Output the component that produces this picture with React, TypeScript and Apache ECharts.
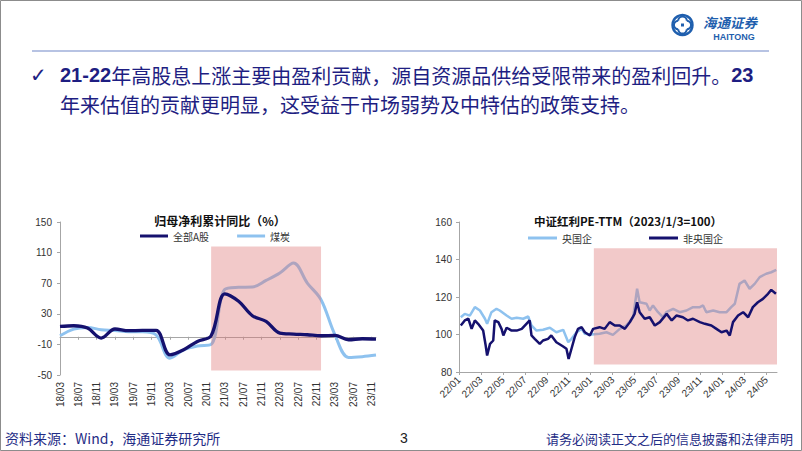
import React, { useEffect, useRef } from 'react';
import * as echarts from 'echarts';

// ---------- Left chart: 归母净利累计同比（%） (quarterly) ----------
const leftQuarters = ['18/03','18/06','18/09','18/12','19/03','19/06','19/09','19/12','20/03','20/06','20/09','20/12','21/03','21/06','21/09','21/12','22/03','22/06','22/09','22/12','23/03','23/06','23/09','23/12'];
const allAShares = [13.5, 14.4, 11.3, -1.7, 10.1, 7.9, 8.3, 8.3, -23.6, -17, -6.1, 1.3, 56, 46.3, 27.5, 20, 4.8, 3.5, 2.6, 1.3, 1.7, -3.9, -2.6, -3];
const coal = [1.3, 10, 12.2, 9.2, 8.3, 6.5, 6.5, 2.3, -28, -17, -12, -10, 62, 64.6, 65, 73.6, 83.4, 96.3, 70.2, 48.4, 3, -27, -26, -24];

// ---------- Right chart: 中证红利PE-TTM（2023/1/3=100） ----------
const centralDates = ['2022-01-06','2022-01-17','2022-01-31','2022-02-14','2022-02-28','2022-03-14','2022-03-20','2022-04-01','2022-04-15','2022-04-24','2022-05-13','2022-05-27','2022-06-10','2022-06-28','2022-07-12','2022-07-21','2022-08-04','2022-08-22','2022-09-10','2022-09-28','2022-10-17','2022-10-31','2022-11-09','2022-11-23','2022-12-07','2022-12-16','2023-01-03','2023-01-26','2023-02-14','2023-03-04','2023-03-23','2023-04-10','2023-04-29','2023-05-10','2023-05-17','2023-06-05','2023-06-14','2023-06-23','2023-07-07','2023-07-21','2023-07-30','2023-08-18','2023-09-05','2023-09-24','2023-10-12','2023-10-31','2023-11-09','2023-11-18','2023-12-07','2023-12-25','2024-01-13','2024-01-26','2024-02-05','2024-02-18','2024-03-03','2024-03-17','2024-03-31','2024-04-14','2024-05-02','2024-05-16','2024-05-30'];
const centralSOE = [109.2,111.0,110.1,114.6,112.8,108.4,105.7,111.9,113.7,112.8,110.1,108.4,108.9,108.4,109.6,104.8,102.1,102.5,103.6,101.2,102.5,95.9,97.7,101.2,103.0,100.4,100,100.4,101.2,99.8,103.0,104.8,109.2,124.4,117.2,116.4,112.8,115.5,111.9,109.2,111.9,113.7,111.9,112.8,114.6,114.6,115.5,111.9,112.8,111.9,111.9,114.6,116.4,127,128.8,124.4,127,130.6,132.4,133.2,134.5];

const nonCentralDates = ['2022-01-06','2022-01-17','2022-01-27','2022-02-05','2022-02-14','2022-02-23','2022-03-09','2022-03-16','2022-03-20','2022-03-28','2022-04-06','2022-04-10','2022-04-20','2022-04-29','2022-05-04','2022-05-13','2022-05-27','2022-06-10','2022-06-24','2022-07-07','2022-07-16','2022-07-21','2022-07-30','2022-08-13','2022-08-22','2022-09-05','2022-09-14','2022-09-28','2022-10-17','2022-10-26','2022-11-01','2022-11-09','2022-11-18','2022-11-27','2022-12-07','2022-12-16','2022-12-30','2023-01-08','2023-01-26','2023-02-09','2023-02-23','2023-03-09','2023-03-23','2023-04-06','2023-04-20','2023-05-03','2023-05-10','2023-05-17','2023-05-31','2023-06-14','2023-06-28','2023-07-12','2023-07-31','2023-08-14','2023-08-27','2023-09-14','2023-09-28','2023-10-12','2023-10-31','2023-11-14','2023-12-02','2023-12-16','2023-12-30','2024-01-13','2024-01-22','2024-01-31','2024-02-14','2024-02-28','2024-03-13','2024-03-26','2024-04-09','2024-04-23','2024-05-07','2024-05-16','2024-05-29'];
const nonCentralSOE = [104.8,107.5,108.4,103.0,107.5,105.7,102.1,94.1,88.8,95.0,96.8,107.5,106.6,103.0,99.5,103.6,102.1,102.1,103.0,105.7,107.5,99.5,97.7,95.0,96.8,97.7,99.5,95.9,93.6,92.4,87.0,92.4,98.6,103.0,103.9,101.2,99.5,103.0,103.9,103.0,106.6,104.8,104.8,103.0,106.6,111.0,117.2,111.9,108.4,109.2,104.8,106.6,111.0,107.5,110.1,109.2,107.5,108.4,106.6,105.7,104.8,103.0,101.2,102.1,99.5,106.6,110.1,111.9,109.2,114.6,117.2,119.0,121.7,123.8,121.7];

// shaded periods
const leftShade = { from: '20/12', to: '22/12', top: 118, bottom: -44 };
const rightShade = { from: '2023-01-10', to: '2024-06-01', top: 146, bottom: 84 };
const rightAxisStart = '2022-01-01';

// ---------- styles ----------
const LIGHT = '#8ec2ef';
const DARK = '#15116e';
const SHADE = 'rgba(222,120,120,0.40)';
const AXIS = '#a6a6a6';
const NAVY_TEXT = '#1e1e82';
const LATIN = 'Liberation Sans, Arial, sans-serif';
const CJK = 'Noto Sans CJK SC, sans-serif';
const DAY = 86400000;

const leftMonths: string[] = [];
for (let y = 18; y <= 23; y++) {
  for (let m = 1; m <= 12; m++) {
    if (y === 18 && m < 3) continue;
    leftMonths.push(`${y}/${String(m).padStart(2, '0')}`);
  }
}

const toLocalTs = (s: string) => {
  const [y, m, d] = s.split('-').map(Number);
  return new Date(y, m - 1, d).getTime();
};
const fmtRight = (v: number) => {
  const d = new Date(v + 5 * DAY);
  return `${String(d.getFullYear()).slice(2)}/${String(d.getMonth() + 1).padStart(2, '0')}`;
};

function buildOption(): any {
  const rs0 = toLocalTs(rightShade.from);
  const rs1 = toLocalTs(rightShade.to);
  const rMin = toLocalTs(rightAxisStart);
  const twoMonths = (365.25 / 6) * DAY;
  const axisLabelStyle = { fontSize: 10, color: '#333', fontFamily: LATIN };

  return {
    animation: false,
    backgroundColor: '#ffffff',
    grid: [
      { left: 60, top: 222, width: 316, height: 153 },
      { left: 459, top: 222, width: 318, height: 150 },
    ],
    legend: [
      {
        data: [{ name: '全部A股', icon: 'rect' }, { name: '煤炭', icon: 'rect' }],
        left: 140, top: 231, padding: 0, itemWidth: 28, itemHeight: 3, itemGap: 28,
        selectedMode: false,
        textStyle: { fontSize: 10, color: '#333', fontFamily: CJK },
      },
      {
        data: [{ name: '央国企', icon: 'rect' }, { name: '非央国企', icon: 'rect' }],
        left: 528, top: 233, padding: 0, itemWidth: 29, itemHeight: 3, itemGap: 57,
        selectedMode: false,
        textStyle: { fontSize: 10, color: '#333', fontFamily: CJK },
      },
    ],
    xAxis: [
      {
        type: 'category', gridIndex: 0, data: leftMonths, boundaryGap: false, position: 'bottom',
        axisLine: { onZero: true, lineStyle: { color: AXIS, width: 1 } },
        axisTick: { show: true, interval: 3, length: 3, lineStyle: { color: AXIS } },
        axisLabel: { show: false },
        splitLine: { show: false },
      },
      {
        type: 'category', gridIndex: 0, data: leftMonths, boundaryGap: false, position: 'bottom',
        axisLine: { show: false, onZero: false },
        axisTick: { show: false },
        axisLabel: { ...axisLabelStyle, interval: 3, rotate: 90, margin: 7 },
        splitLine: { show: false },
      },
      {
        type: 'value', gridIndex: 1, min: rMin, max: rs1, interval: twoMonths,
        axisLine: { onZero: false, lineStyle: { color: AXIS, width: 1 } },
        axisTick: { show: true, length: 3, lineStyle: { color: AXIS } },
        axisLabel: { ...axisLabelStyle, formatter: fmtRight, rotate: 45, margin: 6, showMaxLabel: false, showMinLabel: true },
        splitLine: { show: false },
      },
    ],
    yAxis: [
      {
        type: 'value', gridIndex: 0, min: -50, max: 150, interval: 40,
        axisLine: { show: true, lineStyle: { color: AXIS, width: 1 } },
        axisTick: { show: true, length: 3, lineStyle: { color: AXIS } },
        axisLabel: { ...axisLabelStyle, margin: 8 },
        splitLine: { show: false },
      },
      {
        type: 'value', gridIndex: 1, min: 80, max: 160, interval: 20,
        axisLine: { show: true, lineStyle: { color: AXIS, width: 1 } },
        axisTick: { show: true, length: 3, lineStyle: { color: AXIS } },
        axisLabel: { ...axisLabelStyle, margin: 7 },
        splitLine: { show: false },
      },
    ],
    series: [
      {
        name: '煤炭', type: 'line', xAxisIndex: 0, yAxisIndex: 0, z: 2,
        data: leftQuarters.map((q, i) => [q, coal[i]]),
        smooth: 0.35, symbol: 'none', showSymbol: false,
        lineStyle: { width: 3, color: LIGHT }, itemStyle: { color: LIGHT },
      },
      {
        name: '全部A股', type: 'line', xAxisIndex: 0, yAxisIndex: 0, z: 4,
        data: leftQuarters.map((q, i) => [q, allAShares[i]]),
        smooth: 0.35, symbol: 'none', showSymbol: false,
        lineStyle: { width: 3.3, color: DARK }, itemStyle: { color: DARK },
        markArea: {
          silent: true, z: 3, itemStyle: { color: SHADE },
          data: [[{ xAxis: leftShade.from, yAxis: leftShade.top }, { xAxis: leftShade.to, yAxis: leftShade.bottom }]],
        },
      },
      {
        name: '央国企', type: 'line', xAxisIndex: 2, yAxisIndex: 1, z: 2,
        data: centralDates.map((d, i) => [toLocalTs(d), centralSOE[i]]),
        symbol: 'none', showSymbol: false,
        lineStyle: { width: 2.5, color: LIGHT }, itemStyle: { color: LIGHT },
      },
      {
        name: '非央国企', type: 'line', xAxisIndex: 2, yAxisIndex: 1, z: 4,
        data: nonCentralDates.map((d, i) => [toLocalTs(d), nonCentralSOE[i]]),
        symbol: 'none', showSymbol: false,
        lineStyle: { width: 2.5, color: DARK }, itemStyle: { color: DARK },
        markArea: {
          silent: true, z: 3, itemStyle: { color: SHADE },
          data: [[{ xAxis: rs0, yAxis: rightShade.top }, { xAxis: rs1, yAxis: rightShade.bottom }]],
        },
      },
    ],
    graphic: {
      elements: [
        { type: 'rect', shape: { x: 0.5, y: 0.5, width: 801, height: 450 }, style: { fill: 'none', stroke: '#8c8c8c', lineWidth: 1 }, silent: true, z: 100 },
        { type: 'line', shape: { x1: 32, y1: 51, x2: 769, y2: 51 }, style: { stroke: '#7088c8', lineWidth: 1.2 } },
        { type: 'circle', shape: { cx: 682.5, cy: 25, r: 10 }, style: { fill: 'none', stroke: '#1f5fae', lineWidth: 2.4 } },
        { type: 'arc', shape: { cx: 678.2, cy: 25, r: 4.3, startAngle: Math.PI * 0.5, endAngle: Math.PI * 1.5 }, style: { fill: 'none', stroke: '#1f5fae', lineWidth: 2 } },
        { type: 'arc', shape: { cx: 686.8, cy: 25, r: 4.3, startAngle: -Math.PI * 0.5, endAngle: Math.PI * 0.5 }, style: { fill: 'none', stroke: '#1f5fae', lineWidth: 2 } },
        { type: 'arc', shape: { cx: 682.5, cy: 20.7, r: 4.3, startAngle: Math.PI, endAngle: Math.PI * 2 }, style: { fill: 'none', stroke: '#1f5fae', lineWidth: 2 } },
        { type: 'arc', shape: { cx: 682.5, cy: 29.3, r: 4.3, startAngle: 0, endAngle: Math.PI }, style: { fill: 'none', stroke: '#1f5fae', lineWidth: 2 } },
        { type: 'rect', shape: { x: 681, y: 23.5, width: 3, height: 3 }, style: { fill: '#1f5fae' } },
        { type: 'text', x: 703, y: 21.5, style: { text: '海通证券', fontSize: 13.5, fontWeight: 'bold', fontStyle: 'italic', fontFamily: CJK, fill: '#1f5fae', textVerticalAlign: 'middle' } },
        { type: 'text', x: 734, y: 36.5, style: { text: 'HAITONG', fontSize: 9, fontWeight: 'bold', fontFamily: LATIN, fill: '#1f5fae', textAlign: 'center', textVerticalAlign: 'middle' } },
        { type: 'text', x: 30, y: 75, style: { text: '✓', fontSize: 20, fontWeight: 'bold', fontFamily: 'DejaVu Sans, sans-serif', fill: NAVY_TEXT, textVerticalAlign: 'middle' } },
        {
          type: 'text', x: 60, y: 75,
          style: {
            text: '{n|21-22}{c|年高股息上涨主要由盈利贡献，源自资源品供给受限带来的盈利回升。}{n|23}',
            textVerticalAlign: 'middle',
            rich: {
              n: { fontSize: 20, fontWeight: 'bold', fontFamily: LATIN, fill: NAVY_TEXT, color: NAVY_TEXT },
              c: { fontSize: 20, fontFamily: CJK, fill: NAVY_TEXT, color: NAVY_TEXT },
            },
          },
        },
        { type: 'text', x: 60, y: 104, style: { text: '年来估值的贡献更明显，这受益于市场弱势及中特估的政策支持。', fontSize: 20, fontFamily: CJK, fill: NAVY_TEXT, textVerticalAlign: 'middle' } },
        { type: 'text', x: 220, y: 220, style: { text: '归母净利累计同比（%）', fontSize: 12, fontWeight: 'bold', fontFamily: CJK, fill: '#111', textAlign: 'center', textVerticalAlign: 'middle' } },
        { type: 'text', x: 628, y: 221, style: { text: '中证红利PE-TTM（2023/1/3=100）', fontSize: 11.5, fontWeight: 'bold', fontFamily: CJK, fill: '#111', textAlign: 'center', textVerticalAlign: 'middle' } },
        { type: 'text', x: 5, y: 438, style: { text: '资料来源：Wind，海通证券研究所', fontSize: 14, fontFamily: CJK, fill: '#1f2d86', textVerticalAlign: 'middle' } },
        { type: 'text', x: 404, y: 438, style: { text: '3', fontSize: 14, fontFamily: LATIN, fill: '#222', textAlign: 'center', textVerticalAlign: 'middle' } },
        { type: 'text', x: 793, y: 438, style: { text: '请务必阅读正文之后的信息披露和法律声明', fontSize: 13, fontFamily: CJK, fill: '#1f2d86', textAlign: 'right', textVerticalAlign: 'middle' } },
      ],
    },
  };
}

export default function App() {
  const ref = useRef<HTMLDivElement>(null);
  useEffect(() => {
    if (!ref.current) return;
    const chart = echarts.init(ref.current, null, { renderer: 'svg' });
    chart.setOption(buildOption());
    return () => chart.dispose();
  }, []);
  return (
    <div
      ref={ref}
      style={{ position: 'fixed', left: 0, top: 0, width: 802, height: 451, background: '#ffffff' }}
    />
  );
}
